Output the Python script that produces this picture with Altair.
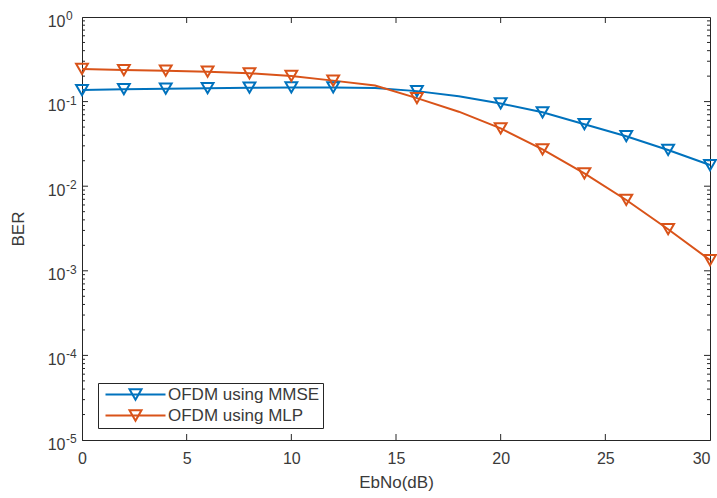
import altair as alt
import pandas as pd

# ---- data ----
ebno = [0, 2, 4, 6, 8, 10, 12, 14, 16, 18, 20, 22, 24, 26, 28, 30]
ber_mmse = [0.137, 0.140, 0.142, 0.144, 0.146, 0.147, 0.147, 0.145, 0.133, 0.116,
            0.095, 0.0747, 0.054, 0.039, 0.0268, 0.0178]
ber_mlp = [0.243, 0.236, 0.232, 0.226, 0.216, 0.201, 0.177, 0.155, 0.110, 0.076,
           0.0483, 0.0273, 0.0142, 0.00687, 0.0031, 0.00134]
marker_ebno = [0, 2, 4, 6, 8, 10, 12, 16, 20, 22, 24, 26, 28, 30]
series_names = ["OFDM using MMSE", "OFDM using MLP"]
series_colors = ["#0072BD", "#D95319"]

x_major = [0, 5, 10, 15, 20, 25, 30]
x_inner = [5, 10, 15, 20, 25]
y_major = [1e-5, 1e-4, 1e-3, 1e-2, 1e-1, 1]
y_exponents = ["-5", "-4", "-3", "-2", "-1", "0"]
y_inner = [1e-4, 1e-3, 1e-2, 1e-1]
y_minor = [k * 10.0 ** d for d in range(-5, 0) for k in range(2, 10)]

rows = []
for name, vals in zip(series_names, [ber_mmse, ber_mlp]):
    for x, v in zip(ebno, vals):
        rows.append({"EbNo": x, "BER": v, "series": name, "marker": x in marker_ebno})
df = pd.DataFrame(rows)

W, H = 628, 423
FONT = "Liberation Sans"
AX = "#262626"
TXT = "#3a3a3a"

xscale = alt.Scale(domain=[0, 30], nice=False, zero=False)
yscale = alt.Scale(type="log", domain=[1e-5, 1], nice=False)

legend = alt.Legend(
    title=None, orient="none", legendX=16, legendY=366,
    symbolType="M-5,0L5,0M0,0.87L-1,-0.87L1,-0.87Z",
    symbolSize=144, symbolStrokeWidth=2, symbolFillColor="transparent",
    labelFontSize=17, labelFont=FONT, labelColor=TXT,
    strokeColor=AX, fillColor="white", padding=3,
    symbolOffset=26, labelOffset=24, rowPadding=2,
)
color = alt.Color("series:N", scale=alt.Scale(domain=series_names, range=series_colors),
                  legend=legend)

xaxis = alt.Axis(
    values=x_major, ticks=False, grid=False, title="EbNo(dB)", labelFontSize=16,
    labelPadding=10, titleFontSize=17, titlePadding=8, labelFont=FONT, titleFont=FONT,
    labelColor=TXT, titleColor=TXT, titleFontWeight="normal", domainColor=AX,
    labelFlush=False,
    labelAlign={"condition": {"test": "datum.value >= 30", "value": "right"}, "value": "center"})
yaxis = alt.Axis(
    values=y_major, labelExpr="'10'", ticks=False, grid=False, title="BER",
    labelFontSize=16, labelPadding=17, labelOffset=4, titleFontSize=17, titlePadding=20,
    labelFont=FONT, titleFont=FONT, labelColor=TXT, titleColor=TXT,
    titleFontWeight="normal", domainColor=AX, labelFlush=False)
xenc = alt.X("EbNo:Q", scale=xscale, axis=xaxis)
yenc = alt.Y("BER:Q", scale=yscale, axis=yaxis)

base = alt.Chart(df)
lines = base.mark_line(strokeWidth=2).encode(x=xenc, y=yenc, color=color,
                                              order=alt.Order("EbNo:Q"))
points = base.transform_filter("datum.marker").mark_point(
    shape="triangle-down", filled=False, size=140, strokeWidth=2, opacity=1
).encode(x=xenc, y=yenc, color=color)

exps = alt.Chart(pd.DataFrame({"BER": y_major, "exp": y_exponents})).mark_text(
    align="left", baseline="middle", fontSize=12, font=FONT, color=TXT, dy=-1
).encode(y=yenc, x=alt.value(-16), text="exp:N")

def yticks(vals, length):
    c = alt.Chart(pd.DataFrame({"BER": vals}))
    left = c.mark_rule(color=AX, strokeWidth=1).encode(y=yenc, x=alt.value(0), x2=alt.value(length))
    right = c.mark_rule(color=AX, strokeWidth=1).encode(y=yenc, x=alt.value(W - length), x2=alt.value(W))
    return [left, right]

def xticks(vals, length):
    c = alt.Chart(pd.DataFrame({"EbNo": vals}))
    bottom = c.mark_rule(color=AX, strokeWidth=1).encode(x=xenc, y=alt.value(H - length), y2=alt.value(H))
    top = c.mark_rule(color=AX, strokeWidth=1).encode(x=xenc, y=alt.value(0), y2=alt.value(length))
    return [bottom, top]

layers = yticks(y_minor, 3) + yticks(y_inner, 6) + xticks(x_inner, 6) + [exps, lines, points]

chart = alt.layer(*layers).properties(
    width=W, height=H,
    autosize=alt.AutoSizeParams(type="none"),
    padding={"left": 82, "top": 17, "right": 7, "bottom": 58},
    background="white",
).configure_view(stroke=AX, strokeWidth=1)

chart.save("out.html", embed_options={"renderer": "svg", "actions": False})
